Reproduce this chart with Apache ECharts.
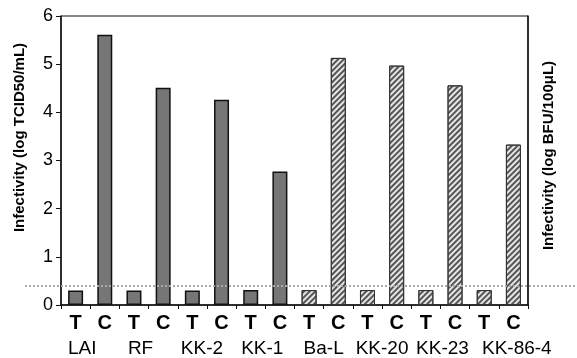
<!DOCTYPE html>
<html>
<head>
<meta charset="utf-8">
<script src="https://cdn.jsdelivr.net/npm/echarts@6/dist/echarts.min.js"></script>
<style>
html, body { margin: 0; padding: 0; background: #fff; }
#main { width: 577px; height: 358px; }
</style>
</head>
<body>
<div id="main"></div>
<script>
// strains, each has a T and a C bar
var strains = ['LAI', 'RF', 'KK-2', 'KK-1', 'Ba-L', 'KK-20', 'KK-23', 'KK-86-4'];
var tValues = [0.30, 0.30, 0.30, 0.31, 0.31, 0.31, 0.31, 0.31];
var cValues = [5.61, 4.51, 4.26, 2.77, 5.13, 4.97, 4.56, 3.33];
var darkCount = 4; // first 4 strains drawn dark, the rest hatched
var cutoff = 0.39;
var yTicks = [0, 1, 2, 3, 4, 5, 6];
// small horizontal nudges of the strain labels (px, + = right)
var labelShift = [-8, -8, -5, -3, 0, 0, 2, 18];

var cats = [];
var darkData = [];
var hatchData = [];
for (var i = 0; i < strains.length; i++) {
	cats.push('T', 'C');
	if (i < darkCount) {
		darkData.push(tValues[i], cValues[i]);
		hatchData.push('-', '-');
	} else {
		darkData.push('-', '-');
		hatchData.push(tValues[i], cValues[i]);
	}
}
var strainLabels = strains.map(function (s, i) {
	var d = labelShift[i];
	return {
		value: s,
		textStyle: { padding: d >= 0 ? [0, 0, 0, 2 * d] : [0, -2 * d, 0, 0] }
	};
});

var chart = echarts.init(document.getElementById('main'));
var font = 'Liberation Sans, Arial, sans-serif';

chart.setOption({
	animation: false,
	grid: {
		left: 61, right: 49, top: 16, bottom: 52,
		show: true, borderColor: '#111', borderWidth: 1, backgroundColor: 'transparent'
	},
	xAxis: [{
		type: 'category',
		data: cats,
		position: 'bottom',
		axisLine: { lineStyle: { color: '#111', width: 1.5 } },
		axisTick: { show: true, length: 4, lineStyle: { color: '#111' } },
		axisLabel: { color: '#000', fontFamily: font, fontSize: 20, fontWeight: 'bold', margin: 8 }
	}, {
		type: 'category',
		data: strainLabels,
		position: 'bottom',
		offset: 26,
		axisLine: { show: false },
		axisTick: { show: false },
		axisLabel: { color: '#000', fontFamily: font, fontSize: 19, margin: 8, interval: 0, hideOverlap: false }
	}],
	yAxis: [{
		type: 'value',
		min: yTicks[0], max: yTicks[yTicks.length - 1], interval: 1,
		name: 'Infectivity (log TCID50/mL)',
		nameLocation: 'middle',
		nameGap: 34,
		nameTextStyle: { color: '#000', fontFamily: font, fontSize: 15, fontWeight: 'bold', padding: [0, 0, 0, 46] },
		axisLine: { show: true, lineStyle: { color: '#111', width: 1.5 } },
		axisTick: { show: true, length: 5, lineStyle: { color: '#111' } },
		axisLabel: { color: '#000', fontFamily: font, fontSize: 18, margin: 8 },
		splitLine: { show: false }
	}, {
		type: 'value',
		min: 0, max: 6,
		position: 'right',
		name: 'Infectivity (log BFU/100μL)',
		nameLocation: 'middle',
		nameGap: 13,
		nameTextStyle: { color: '#000', fontFamily: font, fontSize: 15, fontWeight: 'bold', padding: [0, 0, 0, 10] },
		axisLine: { show: true, lineStyle: { color: '#111', width: 1.5 } },
		axisTick: { show: false },
		axisLabel: { show: false },
		splitLine: { show: false }
	}],
	series: [{
		type: 'bar',
		data: darkData,
		barWidth: 15,
		barGap: '-100%',
		clip: false,
		itemStyle: { color: '#767676', borderColor: '#111', borderWidth: 1.5 },
		markLine: {
			silent: true,
			symbol: 'none',
			label: { show: false },
			lineStyle: { color: '#aaa', type: [2, 2], width: 2 },
			data: [[{ x: 25, yAxis: cutoff }, { x: 577, yAxis: cutoff }]]
		}
	}, {
		type: 'bar',
		data: hatchData,
		barWidth: 15,
		barGap: '-100%',
		itemStyle: {
			color: '#e6e6e6', borderColor: '#333', borderWidth: 1,
			decal: { symbol: 'rect', symbolSize: 1, dashArrayX: [1, 0], dashArrayY: [1.5, 2], rotation: -Math.PI / 4, color: '#555' }
		}
	}]
});
</script>
</body>
</html>
